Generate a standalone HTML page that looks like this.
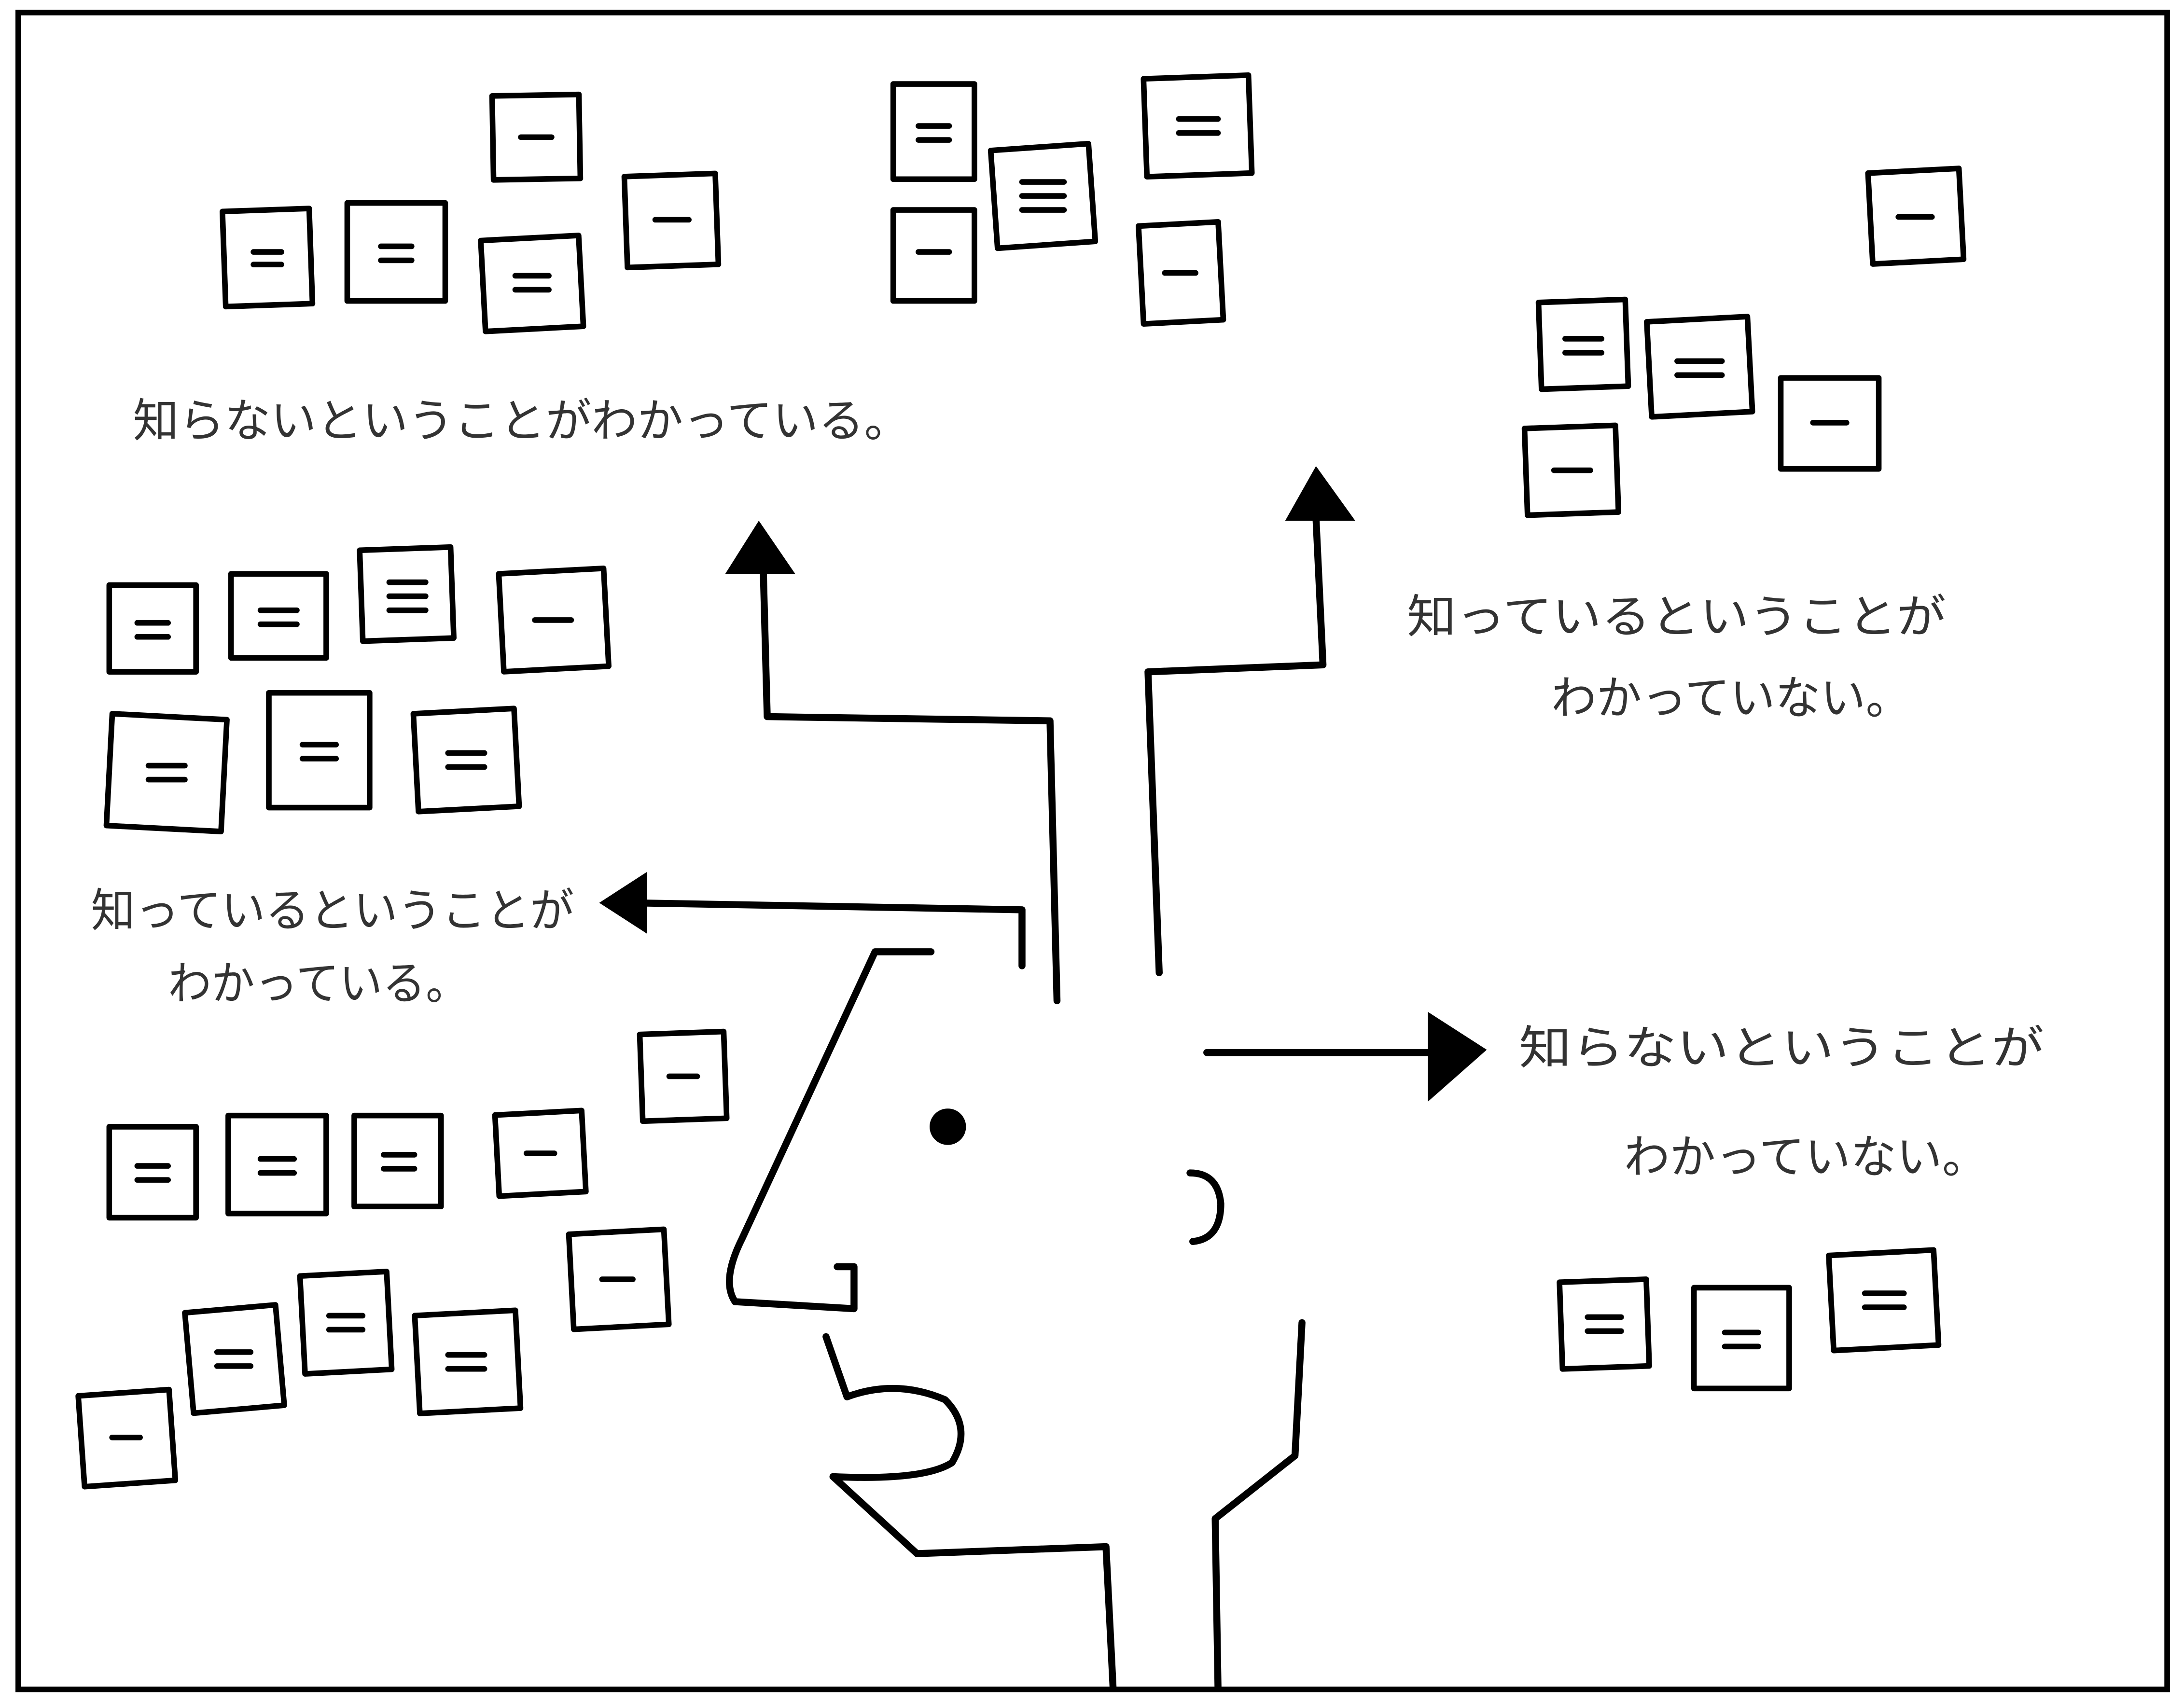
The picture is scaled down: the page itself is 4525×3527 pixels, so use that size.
<!DOCTYPE html>
<html><head><meta charset="utf-8"><style>
html,body{margin:0;padding:0;background:#fff;}
svg{display:block;}
text{font-family:"Liberation Sans","Noto Sans CJK JP",sans-serif;fill:#333;font-size:33px;}
</style></head><body>
<svg width="4525" height="3527" viewBox="0 0 1560 1216" xmlns="http://www.w3.org/2000/svg">
<rect x="0" y="0" width="1560" height="1216" fill="#fff"/>
<rect x="13" y="9" width="1535" height="1198" fill="none" stroke="#000" stroke-width="4"/>
<g fill="#fff" stroke="#000" stroke-width="4" stroke-linejoin="round">
<rect x="352" y="68" width="62" height="60" transform="rotate(-1 383 98)"/>
<rect x="160" y="150" width="62" height="68" transform="rotate(-2 191 184)"/>
<rect x="248" y="145" width="70" height="70"/>
<rect x="345" y="170" width="70" height="65" transform="rotate(-3 380 202)"/>
<rect x="447" y="125" width="65" height="65" transform="rotate(-2 480 157)"/>
<rect x="638" y="60" width="58" height="68"/>
<rect x="710" y="105" width="70" height="70" transform="rotate(-4 745 140)"/>
<rect x="818" y="55" width="75" height="70" transform="rotate(-2 855 90)"/>
<rect x="638" y="150" width="58" height="65"/>
<rect x="815" y="160" width="57" height="70" transform="rotate(-3 843 195)"/>
<rect x="1336" y="122" width="65" height="65" transform="rotate(-3 1368 155)"/>
<rect x="1100" y="215" width="62" height="62" transform="rotate(-2 1131 246)"/>
<rect x="1178" y="228" width="72" height="68" transform="rotate(-3 1214 262)"/>
<rect x="1272" y="270" width="70" height="65"/>
<rect x="1090" y="305" width="65" height="62" transform="rotate(-2 1122 336)"/>
<rect x="78" y="418" width="62" height="62"/>
<rect x="165" y="410" width="68" height="60"/>
<rect x="258" y="392" width="65" height="65" transform="rotate(-2 290 425)"/>
<rect x="358" y="408" width="75" height="70" transform="rotate(-3 395 443)"/>
<rect x="78" y="512" width="82" height="80" transform="rotate(3 119 552)"/>
<rect x="192" y="495" width="72" height="82"/>
<rect x="297" y="508" width="72" height="70" transform="rotate(-3 333 543)"/>
<rect x="458" y="738" width="60" height="62" transform="rotate(-2 488 769)"/>
<rect x="78" y="805" width="62" height="65"/>
<rect x="163" y="797" width="70" height="70"/>
<rect x="253" y="797" width="62" height="65"/>
<rect x="355" y="795" width="62" height="58" transform="rotate(-3 386 824)"/>
<rect x="408" y="880" width="68" height="68" transform="rotate(-3 442 914)"/>
<rect x="58" y="995" width="65" height="65" transform="rotate(-4 90 1027)"/>
<rect x="135" y="935" width="65" height="72" transform="rotate(-5 167 971)"/>
<rect x="216" y="910" width="62" height="70" transform="rotate(-3 247 945)"/>
<rect x="298" y="938" width="72" height="70" transform="rotate(-3 334 973)"/>
<rect x="1115" y="915" width="62" height="62" transform="rotate(-2 1146 946)"/>
<rect x="1210" y="920" width="68" height="72"/>
<rect x="1308" y="895" width="75" height="68" transform="rotate(-3 1345 929)"/>
</g>
<g stroke="#000" stroke-width="4" stroke-linecap="round">
<path d="M372 98h22"/>
<path d="M181 180h20M181 189h20"/>
<path d="M272 176h22M272 186h22"/>
<path d="M368 197h24M368 207h24"/>
<path d="M468 157h24"/>
<path d="M656 90h22M656 100h22"/>
<path d="M730 130h30M730 140h30M730 150h30"/>
<path d="M842 85h28M842 95h28"/>
<path d="M656 180h22"/>
<path d="M832 195h22"/>
<path d="M1356 155h24"/>
<path d="M1118 242h26M1118 252h26"/>
<path d="M1198 258h32M1198 268h32"/>
<path d="M1295 302h24"/>
<path d="M1110 336h26"/>
<path d="M98 445h22M98 455h22"/>
<path d="M186 436h26M186 446h26"/>
<path d="M278 416h26M278 426h26M278 436h26"/>
<path d="M382 443h26"/>
<path d="M106 547h26M106 557h26"/>
<path d="M216 532h24M216 542h24"/>
<path d="M320 538h26M320 548h26"/>
<path d="M478 769h20"/>
<path d="M98 833h22M98 843h22"/>
<path d="M186 828h24M186 838h24"/>
<path d="M274 825h22M274 835h22"/>
<path d="M376 824h20"/>
<path d="M430 914h22"/>
<path d="M80 1027h20"/>
<path d="M155 966h24M155 976h24"/>
<path d="M235 940h24M235 950h24"/>
<path d="M320 968h26M320 978h26"/>
<path d="M1134 941h24M1134 951h24"/>
<path d="M1232 952h24M1232 962h24"/>
<path d="M1332 924h28M1332 934h28"/>
</g>
<g fill="none" stroke="#000" stroke-width="5" stroke-linecap="round" stroke-linejoin="round">
<path d="M755 715L750 515L548 512L545 400"/>
<path d="M828 695L820 480L945 475L940 370"/>
<path d="M730 690L730 650L450 645"/>
<path d="M862 752L1025 752"/>
<path d="M665 680L625 680L530 885Q515 915 525 930L610 935L610 905L598 905"/>
<path d="M590 955L605 998Q640 985 675 1000Q695 1020 680 1045Q660 1058 595 1055"/>
<path d="M595 1055L655 1110L790 1105L795 1205"/>
<path d="M930 945L925 1040L868 1085L870 1205"/>
<path d="M850 838Q870 838 872 860Q872 885 852 887"/>
</g>
<g fill="#000">
<polygon points="518,410 568,410 542,372"/>
<polygon points="918,372 968,372 940,333"/>
<polygon points="428,645 462,623 462,667"/>
<polygon points="1020,723 1062,750 1020,787"/>
<circle cx="677" cy="805" r="13"/>
</g>
<text x="95" y="312" textLength="555" lengthAdjust="spacingAndGlyphs">知らないということがわかっている。</text>
<text x="1005" y="452" textLength="385" lengthAdjust="spacingAndGlyphs">知っているということが</text>
<text x="1108" y="510" textLength="257" lengthAdjust="spacingAndGlyphs">わかっていない。</text>
<text x="65" y="662" textLength="345" lengthAdjust="spacingAndGlyphs">知っているということが</text>
<text x="120" y="714" textLength="215" lengthAdjust="spacingAndGlyphs">わかっている。</text>
<text x="1085" y="760" textLength="375" lengthAdjust="spacingAndGlyphs">知らないということが</text>
<text x="1160" y="838" textLength="260" lengthAdjust="spacingAndGlyphs">わかっていない。</text>
</svg>
</body></html>
